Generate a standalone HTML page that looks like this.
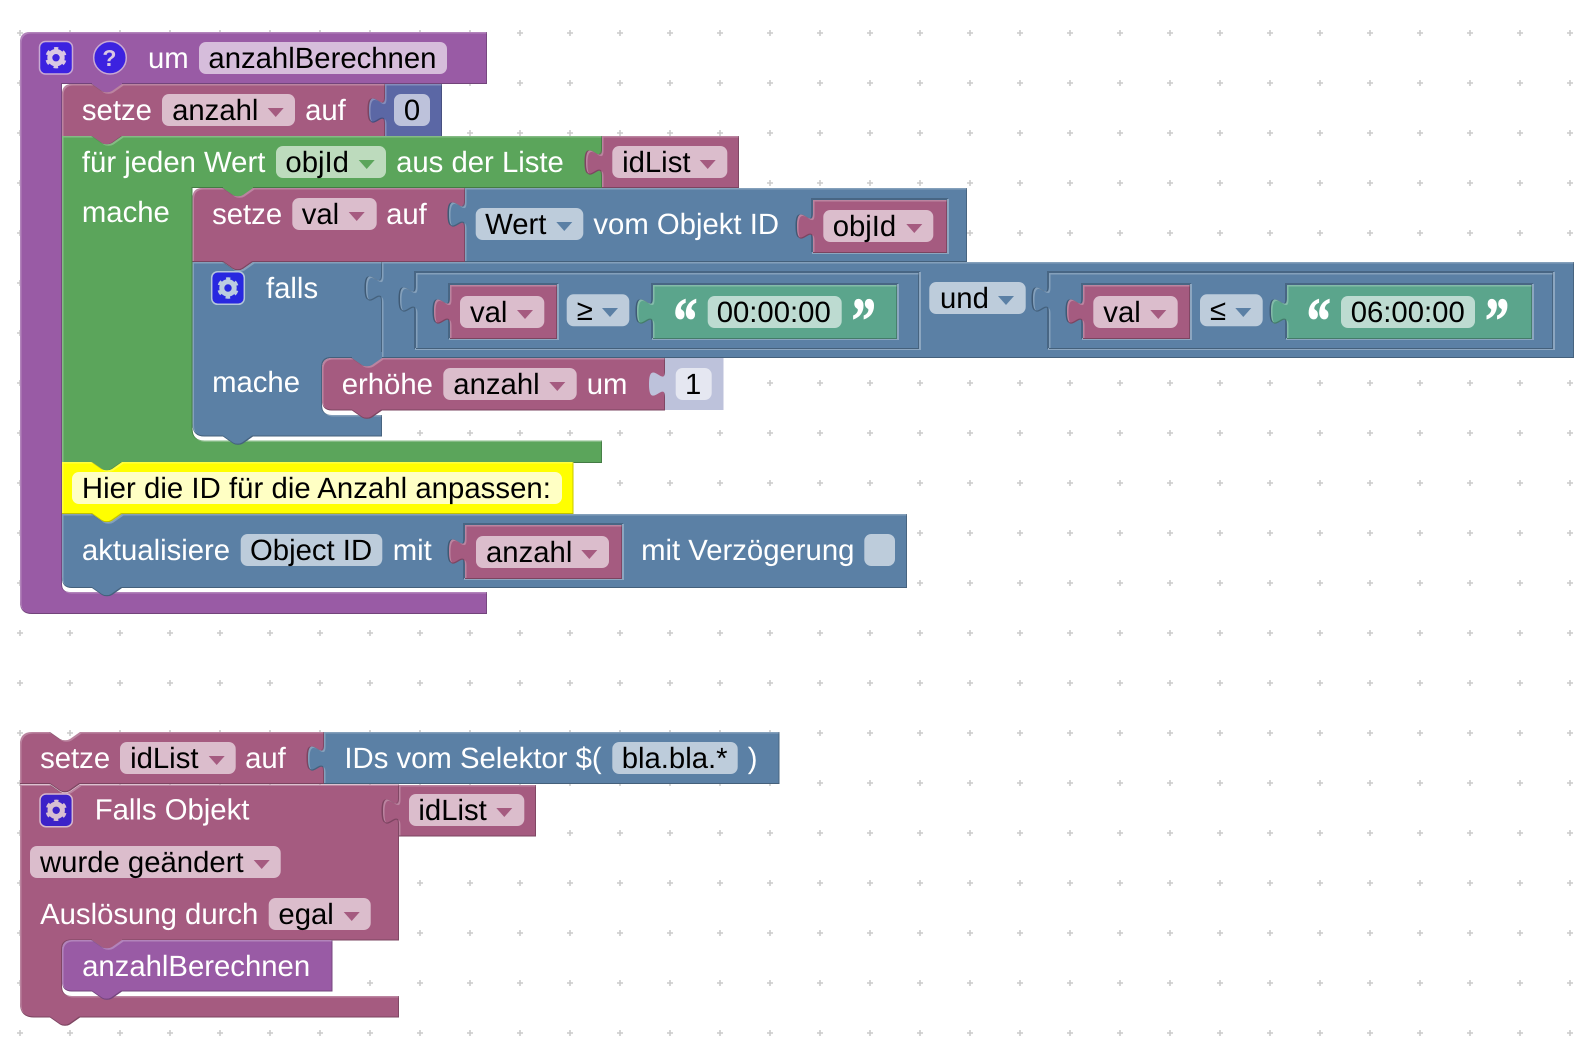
<!DOCTYPE html>
<html><head><meta charset="utf-8"><title>Blocks</title>
<style>
html,body{margin:0;padding:0;background:#fff}
svg{display:block}
text{font-family:"Liberation Sans",sans-serif;font-size:29.3px;text-rendering:geometricPrecision;transform:translate(-.6px,0)}
.t{fill:#fff}.k{fill:#000}
.q{font-family:"Liberation Serif",serif;font-weight:bold;font-size:64px;fill:#fff;stroke:#fff;stroke-width:1.1px;text-anchor:middle}
.pu{fill:#995BA5}.ro{fill:#A55B80}.gr{fill:#5BA55B}.bl{fill:#5B80A5}.tg{fill:#5BA58C}.ma{fill:#5B67A5}.ye{fill:#FFFF00}.sh{fill:#BDC2DB}
.b{filter:url(#bevel)}
.fro{fill:#DBBDCC}.fgr{fill:#BDDBBD}.fbl{fill:#BDCCDB}.ftg{fill:#BDDBD1}.fpu{fill:#D6BDDB}.fma{fill:#BDC2DB}.fsh{fill:#E5E7F1}.fye{fill:#FFFFC4}
.d{fill:none;stroke:#486684;stroke-width:2}.l{fill:none;stroke:#8CA6C0;stroke-width:2}
.sd{fill:#3f5a75}.sr{fill:#7d4561}.sg{fill:#417d41}
</style></head>
<body>
<svg width="1596" height="1056" viewBox="0 0 1596 1056" xmlns="http://www.w3.org/2000/svg">
<defs>
<filter id="bevel" filterUnits="userSpaceOnUse" x="0" y="0" width="1596" height="1056" color-interpolation-filters="sRGB">
<feOffset in="SourceGraphic" dx="0" dy="1" result="sh0"/>
<feFlood flood-color="#000" flood-opacity=".25"/><feComposite in2="sh0" operator="in" result="sh1"/>
<feMerge result="under"><feMergeNode in="sh0"/><feMergeNode in="sh1"/></feMerge>
<feOffset in="SourceAlpha" dx="1.5" dy="1.5" result="o1"/>
<feComposite in="SourceAlpha" in2="o1" operator="out" result="e1"/>
<feFlood flood-color="#fff" flood-opacity=".25"/><feComposite in2="e1" operator="in" result="hl"/>
<feOffset in="SourceAlpha" dx="-1" dy="0" result="o2"/>
<feComposite in="SourceAlpha" in2="o2" operator="out" result="e2"/>
<feFlood flood-color="#000" flood-opacity=".22"/><feComposite in2="e2" operator="in" result="dk"/>
<feMerge><feMergeNode in="under"/><feMergeNode in="SourceGraphic"/><feMergeNode in="hl"/><feMergeNode in="dk"/></feMerge>
</filter>
<pattern id="grid" patternUnits="userSpaceOnUse" x="0" y="0" width="50" height="50">
<path d="M17 33h6M20 30v6" stroke="#ccc" stroke-width="1.6" fill="none"/>
</pattern>
<g id="gear"><circle r="6.2" fill="none" stroke="currentColor" stroke-width="5"/><circle r="9.2" fill="none" stroke="currentColor" stroke-width="3" stroke-dasharray="4.5 5.13" stroke-dashoffset="2.25" transform="rotate(-90)"/></g>
</defs>
<rect width="1596" height="1056" fill="#fff"/>
<rect width="1596" height="1056" fill="url(#grid)"/>

<!-- purple function block -->
<path class="pu b" d="M20 42q0-10 10-10H487V83H62V584q0 8 8 8H487V613H32q-12 0-12-12Z"/>
<rect class="pu" x="92" y="80" width="30" height="12.5"/>
<rect x="39.5" y="41.5" width="33" height="32.5" rx="6" fill="#3C22E0" stroke="#C9A9D4" stroke-width="1.5"/>
<use href="#gear" transform="translate(56 57.7)" color="#D9C7E3"/>
<circle cx="110" cy="57.7" r="16.3" fill="#3C22E0" stroke="#C9A9D4" stroke-width="1.5"/>
<text x="110" y="66" text-anchor="middle" style="font-weight:bold;font-size:23px" fill="#D9C7E3">?</text>
<text class="t" x="148.6" y="68">um</text>
<rect class="fpu" x="199" y="42" width="248" height="32" rx="7"/>
<text class="k" x="209" y="68">anzahlBerechnen</text>

<!-- setze anzahl -->
<path class="ro b" d="M62 94q0-10 10-10H92l10 7q2 1.3 5 1.3q3 0 5-1.3l10-7H385V136H122l-10 7q-2 1.3-5 1.3q-3 0-5-1.3l-10-7H62Z"/>
<text class="t" x="82.5" y="120">setze</text>
<rect class="fro" x="162" y="94" width="133" height="32" rx="7"/>
<text class="k" x="172.7" y="120">anzahl</text>
<path class="ro" d="M267.7 108h16l-8 9z"/>
<text class="t" x="305.7" y="120">auf</text>
<path class="sr" d="M383.5 123.2c0-17.5-16 14-16-13.1s16 4.4 16-13.1z"/>
<path class="ma b" d="M385 84H442V136H385V123.2c0-17.5-16 14-16-13.1s16 4.4 16-13.1V84Z"/>
<rect class="fma" x="394" y="94" width="36" height="32" rx="7"/>
<text class="k" x="412.6" y="120" text-anchor="middle">0</text>

<!-- green loop -->
<path class="gr b" d="M62 136H92l10 7q2 1.3 5 1.3q3 0 5-1.3l10-7H602V187H192.5V428.5q0 12 12 12H602V462H122l-10 7q-2 1.3-5 1.3q-3 0-5-1.3l-10-7H62Z"/>
<rect class="gr" x="223" y="184" width="30" height="12.5"/>
<text class="t" x="82.5" y="172">für jeden Wert</text>
<rect class="fgr" x="276" y="146" width="110" height="32" rx="7"/>
<text class="k" x="286" y="172">objId</text>
<path class="gr" d="M358.7 160h16l-8 9z"/>
<text class="t" x="396.7" y="172">aus der Liste</text>
<text class="t" x="82.5" y="222">mache</text>
<path class="sr" d="M600.5 175.2c0-17.5-16 14-16-13.1s16 4.4 16-13.1z"/>
<path class="ro b" d="M602 136H739V187H602V175.2c0-17.5-16 14-16-13.1s16 4.4 16-13.1V136Z"/>
<rect class="fro" x="612.3" y="146" width="115" height="32" rx="7"/>
<text class="k" x="622.7" y="172">idList</text>
<path class="ro" d="M699.7 160h16l-8 9z"/>

<!-- setze val -->
<path class="ro b" d="M192.5 198q0-10 10-10H223l10 7q2 1.3 5 1.3q3 0 5-1.3l10-7H465V261H253l-10 7q-2 1.3-5 1.3q-3 0-5-1.3l-10-7H192.5Z"/>
<text class="t" x="212.7" y="224">setze</text>
<rect class="fro" x="292.3" y="198" width="84.4" height="32" rx="7"/>
<text class="k" x="302.3" y="224">val</text>
<path class="ro" d="M348.7 212h16l-8 9z"/>
<text class="t" x="386.7" y="224">auf</text>
<path class="sd" d="M463.5 227.2c0-17.5-16 14-16-13.1s16 4.4 16-13.1z"/>
<path class="bl b" d="M465 188H967V261H465V227.2c0-17.5-16 14-16-13.1s16 4.4 16-13.1V188Z"/>
<rect class="fbl" x="475.7" y="208" width="107.6" height="32" rx="7"/>
<text class="k" x="485.7" y="234">Wert</text>
<path class="bl" d="M556.3 222h16l-8 9z"/>
<text class="t" x="594" y="234">vom Objekt ID</text>
<path class="d" d="M812 252V199H948"/><path class="l" d="M948 199V253H812"/>
<path class="sd" d="M811.5 239.2c0-17.5-16 14-16-13.1s16 4.4 16-13.1z"/>
<path class="ro b" d="M813 200H947V252H813V239.2c0-17.5-16 14-16-13.1s16 4.4 16-13.1V200Z"/>
<rect class="fro" x="823.3" y="210" width="110" height="32" rx="7"/>
<text class="k" x="833.3" y="236">objId</text>
<path class="ro" d="M906.3 224h16l-8 9z"/>

<!-- falls -->
<path class="bl b" d="M192.5 262H223l10 7q2 1.3 5 1.3q3 0 5-1.3l10-7H382V357H332q-10 0-10 10V405q0 10 10 10H382V435.5H253l-10 7q-2 1.3-5 1.3q-3 0-5-1.3l-10-7H204.5q-12 0-12-12Z"/>
<rect class="bl" x="352" y="352" width="30" height="14.5"/>
<rect x="211.7" y="271.7" width="32.6" height="32.6" rx="6" fill="#2828E0" stroke="#B4C6DA" stroke-width="1.5"/>
<use href="#gear" transform="translate(228 288)" color="#BCCDE0"/>
<text class="t" x="266.6" y="298">falls</text>
<text class="t" x="212.7" y="392">mache</text>
<path class="sd" d="M380.5 301.2c0-17.5-16 14-16-13.1s16 4.4 16-13.1z"/>
<path class="bl b" d="M382 262H1574V357H382V301.2c0-17.5-16 14-16-13.1s16 4.4 16-13.1V262Z"/>

<!-- >= sub block -->
<path class="d" d="M415 349V272H920"/><path class="l" d="M920 272V349H415"/>
<path class="sd" d="M414.5 312.2c0-17.5-16 14-16-13.1s16 4.4 16-13.1z"/>
<path class="bl b" d="M416 273H919V348H416V312.2c0-17.5-16 14-16-13.1s16 4.4 16-13.1V273Z"/>
<path class="d" d="M449 339V284H558"/><path class="l" d="M558 284V339H449"/>
<path class="sd" d="M448.5 324.2c0-17.5-16 14-16-13.1s16 4.4 16-13.1z"/>
<path class="ro b" d="M450 285H557V338H450V324.2c0-17.5-16 14-16-13.1s16 4.4 16-13.1V285Z"/>
<rect class="fro" x="460" y="296" width="84.3" height="32" rx="7"/>
<text class="k" x="470.6" y="322">val</text>
<path class="ro" d="M517 310h16l-8 9z"/>
<rect class="fbl" x="566.7" y="294.3" width="62.6" height="32" rx="7"/>
<text class="k" x="577.3" y="320">≥</text>
<path class="bl" d="M602 308h16l-8 9z"/>
<path class="d" d="M652 339V284H898"/><path class="l" d="M898 284V339H652"/>
<path class="sd" d="M651.5 324.2c0-17.5-16 14-16-13.1s16 4.4 16-13.1z"/>
<path class="tg b" d="M653 285H897V338H653V324.2c0-17.5-16 14-16-13.1s16 4.4 16-13.1V285Z"/>
<text class="q" x="686" y="342" textLength="24" lengthAdjust="spacingAndGlyphs">“</text>
<rect class="ftg" x="707.7" y="296" width="134" height="32" rx="7"/>
<text class="k" x="717.3" y="322">00:00:00</text>
<text class="q" x="864.3" y="342" textLength="24" lengthAdjust="spacingAndGlyphs">”</text>

<!-- und -->
<rect class="fbl" x="929.3" y="282" width="96.4" height="32" rx="7"/>
<text class="k" x="940.6" y="308">und</text>
<path class="bl" d="M998 296h16l-8 9z"/>

<!-- <= sub block -->
<path class="d" d="M1048 349V272H1554"/><path class="l" d="M1554 272V349H1048"/>
<path class="sd" d="M1047.5 312.2c0-17.5-16 14-16-13.1s16 4.4 16-13.1z"/>
<path class="bl b" d="M1049 273H1553V348H1049V312.2c0-17.5-16 14-16-13.1s16 4.4 16-13.1V273Z"/>
<path class="d" d="M1082 339V284H1191"/><path class="l" d="M1191 284V339H1082"/>
<path class="sd" d="M1081.5 324.2c0-17.5-16 14-16-13.1s16 4.4 16-13.1z"/>
<path class="ro b" d="M1083 285H1190V338H1083V324.2c0-17.5-16 14-16-13.1s16 4.4 16-13.1V285Z"/>
<rect class="fro" x="1093.3" y="296" width="84.4" height="32" rx="7"/>
<text class="k" x="1103.9" y="322">val</text>
<path class="ro" d="M1150.3 310h16l-8 9z"/>
<rect class="fbl" x="1200" y="294.3" width="62.7" height="32" rx="7"/>
<text class="k" x="1210.6" y="320">≤</text>
<path class="bl" d="M1235.3 308h16l-8 9z"/>
<path class="d" d="M1286 339V284H1533"/><path class="l" d="M1533 284V339H1286"/>
<path class="sd" d="M1285.5 324.2c0-17.5-16 14-16-13.1s16 4.4 16-13.1z"/>
<path class="tg b" d="M1287 285H1532V338H1287V324.2c0-17.5-16 14-16-13.1s16 4.4 16-13.1V285Z"/>
<text class="q" x="1319.3" y="342" textLength="24" lengthAdjust="spacingAndGlyphs">“</text>
<rect class="ftg" x="1341" y="296" width="134" height="32" rx="7"/>
<text class="k" x="1351.3" y="322">06:00:00</text>
<text class="q" x="1497.7" y="342" textLength="24" lengthAdjust="spacingAndGlyphs">”</text>

<!-- erhoehe -->
<path class="ro b" d="M322 368q0-10 10-10H352l10 7q2 1.3 5 1.3q3 0 5-1.3l10-7H665V409.5H382l-10 7q-2 1.3-5 1.3q-3 0-5-1.3l-10-7H332q-10 0-10-10Z"/>
<text class="t" x="342.3" y="394">erhöhe</text>
<rect class="fro" x="443.3" y="368" width="133.4" height="32" rx="7"/>
<text class="k" x="453.9" y="394">anzahl</text>
<path class="ro" d="M549.3 382h16l-8 9z"/>
<text class="t" x="587.3" y="394">um</text>
<path class="sh" d="M665 358H723.5V410H665V397.2c0-17.5-16 14-16-13.1s16 4.4 16-13.1V358Z"/>
<rect class="fsh" x="675.7" y="368" width="36" height="32" rx="7"/>
<text class="k" x="693.7" y="394" text-anchor="middle">1</text>

<!-- yellow comment -->
<path class="ye b" d="M62 462H92l10 7q2 1.3 5 1.3q3 0 5-1.3l10-7H573.5V513H122l-10 7q-2 1.3-5 1.3q-3 0-5-1.3l-10-7H62Z"/>
<rect class="fye" x="72" y="472" width="490" height="32" rx="7"/>
<text class="k" x="82.5" y="498" textLength="469">Hier die ID für die Anzahl anpassen:</text>

<!-- aktualisiere -->
<path class="bl b" d="M62 514H92l10 7q2 1.3 5 1.3q3 0 5-1.3l10-7H907V587H122l-10 7q-2 1.3-5 1.3q-3 0-5-1.3l-10-7H72q-10 0-10-10Z"/>
<text class="t" x="82.5" y="560">aktualisiere</text>
<rect class="fbl" x="240.7" y="534" width="141.6" height="32" rx="7"/>
<text class="k" x="250.6" y="560">Object ID</text>
<text class="t" x="393.3" y="560">mit</text>
<path class="d" d="M464 579V524H623"/><path class="l" d="M623 524V579H464"/>
<path class="sd" d="M463.5 564.2c0-17.5-16 14-16-13.1s16 4.4 16-13.1z"/>
<path class="ro b" d="M465 525H622V578H465V564.2c0-17.5-16 14-16-13.1s16 4.4 16-13.1V525Z"/>
<rect class="fro" x="476" y="536" width="133" height="32" rx="7"/>
<text class="k" x="486.6" y="562">anzahl</text>
<path class="ro" d="M581.3 550h16l-8 9z"/>
<text class="t" x="641.7" y="560">mit Verzögerung</text>
<rect class="fbl" x="864.3" y="534" width="30.7" height="32" rx="7"/>

<!-- second stack -->
<path class="ro b" d="M20 744q0-12 12-12H50l10 7q2 1.3 5 1.3q3 0 5-1.3l10-7H324V783H80l-10 7q-2 1.3-5 1.3q-3 0-5-1.3l-10-7H20Z"/>
<text class="t" x="40.7" y="768">setze</text>
<rect class="fro" x="120" y="742" width="115.7" height="32" rx="7"/>
<text class="k" x="130.7" y="768">idList</text>
<path class="ro" d="M208.7 756h16l-8 9z"/>
<text class="t" x="245.7" y="768">auf</text>
<path class="sr" d="M322.5 771.2c0-17.5-16 14-16-13.1s16 4.4 16-13.1z"/>
<path class="bl b" d="M324 732H779.5V783H324V771.2c0-17.5-16 14-16-13.1s16 4.4 16-13.1V732Z"/>
<text class="t" x="345" y="768">IDs vom Selektor $(</text>
<rect class="fbl" x="612.3" y="742" width="125.4" height="32" rx="7"/>
<text class="k" x="622.3" y="768">bla.bla.*</text>
<text class="t" x="748.3" y="768">)</text>

<path class="ro b" d="M20 784.5H50l10 7q2 1.3 5 1.3q3 0 5-1.3l10-7H399V939.5H72q-10 0-10 10V986q0 10 10 10H399V1016.5H80l-10 7q-2 1.3-5 1.3q-3 0-5-1.3l-10-7H34q-14 0-14-14Z"/>
<rect class="ro" x="92" y="936" width="30" height="12.5"/>
<rect x="40" y="794" width="32.3" height="32.7" rx="6" fill="#3C22C8" stroke="#D6B7CC" stroke-width="1.5"/>
<use href="#gear" transform="translate(56.2 810.3)" color="#D8BFD2"/>
<text class="t" x="95.3" y="819.5">Falls Objekt</text>
<rect class="fro" x="30" y="846" width="250.7" height="32" rx="7"/>
<text class="k" x="40.6" y="872">wurde geändert</text>
<path class="ro" d="M253.7 860h16l-8 9z"/>
<text class="t" x="40.7" y="924">Auslösung durch</text>
<rect class="fro" x="268.7" y="898" width="102" height="32" rx="7"/>
<text class="k" x="279" y="924">egal</text>
<path class="ro" d="M343.7 912h16l-8 9z"/>
<path class="sr" d="M397.5 824.2c0-17.5-16 14-16-13.1s16 4.4 16-13.1z"/>
<path class="ro b" d="M399 785H536V835.5H399V824.2c0-17.5-16 14-16-13.1s16 4.4 16-13.1V785Z"/>
<rect class="fro" x="409" y="794" width="115.3" height="32" rx="7"/>
<text class="k" x="419" y="820">idList</text>
<path class="ro" d="M496.3 808h16l-8 9z"/>
<path class="pu b" d="M62 950q0-10 10-10H92l10 7q2 1.3 5 1.3q3 0 5-1.3l10-7H332.5V990.5H122l-10 7q-2 1.3-5 1.3q-3 0-5-1.3l-10-7H72q-10 0-10-10Z"/>
<text class="t" x="82.7" y="976">anzahlBerechnen</text>
</svg>
</body></html>
